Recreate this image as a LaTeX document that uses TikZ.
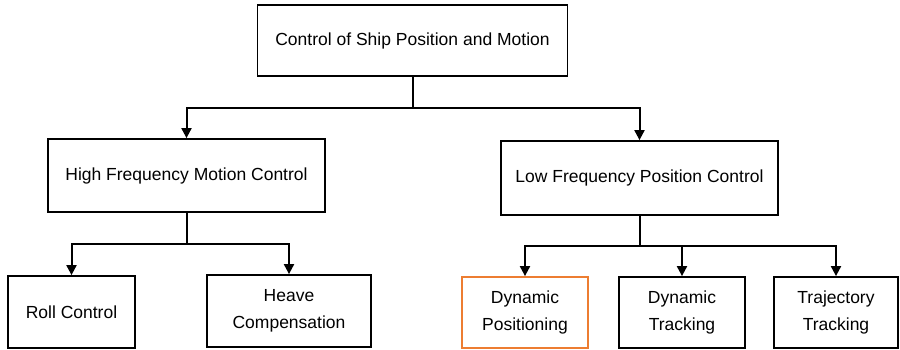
\documentclass[tikz,border=0pt]{standalone}
\usepackage{fontspec}
\setmainfont{Liberation Sans}
\usetikzlibrary{arrows.meta}
\definecolor{accent}{HTML}{ED7D31}
\begin{document}
\begin{tikzpicture}[x=1pt,y=-1pt,
  box/.style={draw=black,line width=1.8pt,fill=white,align=center,inner sep=0pt,
    font=\fontsize{17.5}{27}\selectfont},
  link/.style={line width=2pt},
  arr/.style={link,-{Triangle[length=10pt,width=10pt]}}]
\useasboundingbox (0,0) rectangle (900,350);
% top level
\node[box,minimum width=310pt,minimum height=71pt] (top) at (412.5,40.5) {Control of Ship Position and Motion};
% second level
\node[box,minimum width=277pt,minimum height=73pt] (hf) at (186.5,175.5) {High Frequency Motion Control};
\node[box,minimum width=277pt,minimum height=74pt] (lf) at (639.5,178) {Low Frequency Position Control};
% leaves
\node[box,minimum width=127pt,minimum height=72pt] (roll) at (71.5,312) {Roll Control};
\node[box,minimum width=164pt,minimum height=72pt] (heave) at (289,311) {Heave\\Compensation};
\node[box,draw=accent,minimum width=126pt,minimum height=71pt] (dp) at (525,312.5) {Dynamic\\Positioning};
\node[box,minimum width=126pt,minimum height=71pt] (dt) at (682,312.5) {Dynamic\\Tracking};
\node[box,minimum width=124pt,minimum height=71pt] (tt) at (836,312.5) {Trajectory\\Tracking};
% bus points below each parent
\coordinate (b1) at (top.south |- 0,108);
\coordinate (b2) at (hf.south |- 0,244);
\coordinate (b3) at (lf.south |- 0,246);
% connectors
\draw[link] (top.south) -- (b1);
\draw[arr] (b1) -| (hf.north);
\draw[arr] (b1) -| (lf.north);
\draw[link] (hf.south) -- (b2);
\draw[arr] (b2) -| (roll.north);
\draw[arr] (b2) -| (heave.north);
\draw[link] (lf.south) -- (b3);
\draw[arr] (b3) -| (dp.north);
\draw[arr] (b3) -| (dt.north);
\draw[arr] (b3) -| (tt.north);
\end{tikzpicture}
\end{document}
